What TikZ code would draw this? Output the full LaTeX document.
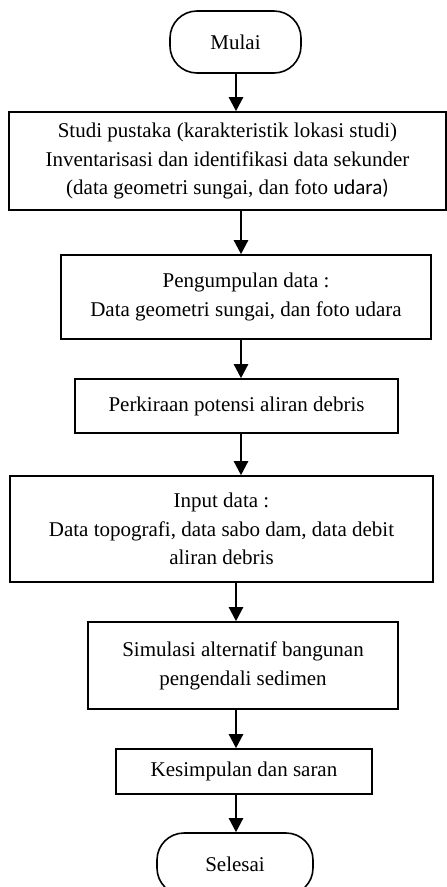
\documentclass[tikz,border=0pt]{standalone}
\usepackage{fontspec}
\setmainfont{Liberation Serif}
\newfontfamily\sansudara{Carlito}
\usetikzlibrary{arrows.meta}
\begin{document}
\begin{tikzpicture}[x=1pt,y=-1pt,
  box/.style={draw,line width=1.6pt,inner sep=0pt,align=center,font=\fontsize{21}{28.8}\selectfont},
  term/.style={box,rounded corners=27pt},
  arr/.style={line width=2.4pt,-{Triangle[width=14pt,length=14pt]}}]
\useasboundingbox (0,0) rectangle (447,887);
\clip (0,0) rectangle (447,887);
\node[term,minimum width=131pt,minimum height=62pt] (mulai) at (235.5,42) {Mulai};
\node[box,minimum width=437pt,minimum height=98pt] (studi) at (227.5,161) {Studi pustaka (karakteristik lokasi studi)\\Inventarisasi dan identifikasi data sekunder\\(data geometri sungai, dan foto {\sansudara udara)}};
\node[box,minimum width=370pt,minimum height=84pt] (peng) at (246,297) {Pengumpulan data :\\Data geometri sungai, dan foto udara};
\node[box,minimum width=323pt,minimum height=54pt] (perk) at (236.5,406) {Perkiraan potensi aliran debris};
\node[box,minimum width=423pt,minimum height=106pt] (input) at (221.5,529) {Input data :\\Data topografi, data sabo dam, data debit\\aliran debris};
\node[box,minimum width=310pt,minimum height=87pt] (simul) at (243,665.5) {Simulasi alternatif bangunan\\pengendali sedimen};
\node[box,minimum width=256pt,minimum height=45pt] (kesim) at (244,771.5) {Kesimpulan dan saran};
\node[term,minimum width=156pt,minimum height=62pt] (selesai) at (235,864) {Selesai};
\coordinate (xa) at (236,0);
\coordinate (xb) at (241,0);
\draw[arr] (mulai.south -| xa) -- (studi.north -| xa);
\draw[arr] (studi.south -| xb) -- (peng.north -| xb);
\draw[arr] (peng.south -| xb) -- (perk.north -| xb);
\draw[arr] (perk.south -| xb) -- (input.north -| xb);
\draw[arr] (input.south -| xa) -- (simul.north -| xa);
\draw[arr] (simul.south -| xa) -- (kesim.north -| xa);
\draw[arr] (kesim.south -| xa) -- (selesai.north -| xa);
\end{tikzpicture}
\end{document}
